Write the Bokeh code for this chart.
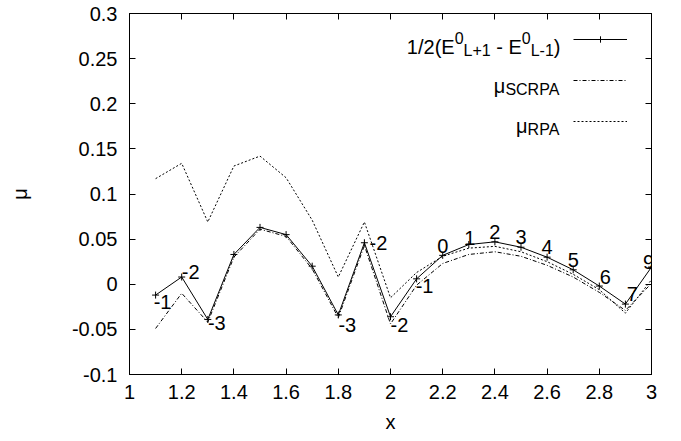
from bokeh.plotting import figure
from bokeh.models import (ColumnDataSource, FixedTicker, LinearAxis, Label, Legend,
                          LegendItem, Range1d)
from bokeh.embed import file_html
from bokeh.resources import INLINE
from bokeh.core.properties import value

# ---------------- data ----------------
x_vals = [1.1, 1.2, 1.3, 1.4, 1.5, 1.6, 1.7, 1.8, 1.9, 2.0,
          2.1, 2.2, 2.3, 2.4, 2.5, 2.6, 2.7, 2.8, 2.9, 3.0]
exact = [-0.012, 0.008, -0.039, 0.033, 0.063, 0.055, 0.020, -0.034, 0.046, -0.036,
         0.006, 0.032, 0.044, 0.047, 0.041, 0.030, 0.016, -0.002, -0.022, 0.019]
scrpa = [-0.049, -0.010, -0.042, 0.030, 0.061, 0.053, 0.017, -0.037, 0.043, -0.044,
         -0.001, 0.023, 0.033, 0.036, 0.031, 0.021, 0.008, -0.009, -0.029, 0.001]
rpa = [0.117, 0.134, 0.069, 0.131, 0.142, 0.118, 0.071, 0.008, 0.069, -0.015,
       0.013, 0.031, 0.040, 0.042, 0.036, 0.025, 0.011, -0.006, -0.032, 0.005]
point_labels = ["-1", "-2", "-3", "", "", "", "", "-3", "-2", "-2",
                "-1", "0", "1", "2", "3", "4", "5", "6", "7", "9"]

x_ticks = [1, 1.2, 1.4, 1.6, 1.8, 2, 2.2, 2.4, 2.6, 2.8, 3]
x_tick_labels = ["1", "1.2", "1.4", "1.6", "1.8", "2", "2.2", "2.4", "2.6", "2.8", "3"]
y_ticks = [-0.1, -0.05, 0, 0.05, 0.1, 0.15, 0.2, 0.25, 0.3]
y_tick_labels = ["-0.1", "-0.05", "0", "0.05", "0.1", "0.15", "0.2", "0.25", "0.3"]

# ---------------- styles (label placement, px) ----------------
label_dx = [7, 9, 9, 0, 0, 0, 0, 9, 14, 9, 8, 0, 1, 0, 0, 0, 0, 6, 7, -3]
label_dy = [7, -5, 4, 0, 0, 0, 0, 10, 0, 8, 7, -9, -7, -10, -10, -10, -10, -9, -10, -5]

FONT = "Liberation Sans"
FS = 20
FS_SUB = 16

p = figure(frame_width=522, frame_height=361,
           x_range=Range1d(1, 3), y_range=Range1d(-0.1, 0.3),
           output_backend="svg", toolbar_location=None,
           min_border_left=129, min_border_right=30,
           min_border_top=13, min_border_bottom=67,
           x_axis_label="x", y_axis_label="μ")
p.grid.visible = False
p.outline_line_color = "black"
p.background_fill_color = "white"
p.border_fill_color = "white"

def style_axis(ax, ticks, labels, show):
    ax.ticker = FixedTicker(ticks=ticks)
    ax.major_tick_in = 6
    ax.major_tick_out = 0
    ax.minor_tick_line_color = None
    ax.axis_line_color = "black"
    ax.major_tick_line_color = "black"
    if show:
        ax.major_label_overrides = {t: l for t, l in zip(ticks, labels)}
        ax.major_label_text_font = FONT
        ax.major_label_text_font_size = f"{FS}px"
        ax.major_label_text_color = "black"
    else:
        ax.major_label_overrides = {t: "" for t in ticks}
        ax.major_label_text_font_size = "0px"
        ax.major_label_standoff = 0

xa = p.xaxis[0]
ya = p.yaxis[0]
style_axis(xa, x_ticks, x_tick_labels, True)
style_axis(ya, y_ticks, y_tick_labels, True)
xa.major_label_standoff = 10
ya.major_label_standoff = 12
for ax in (xa, ya):
    ax.axis_label_text_font = FONT
    ax.axis_label_text_font_size = f"{FS}px"
    ax.axis_label_text_font_style = "normal"
    ax.axis_label_text_color = "black"
xa.axis_label_standoff = 9
ya.axis_label_standoff = 38

ra = LinearAxis()
style_axis(ra, y_ticks, y_tick_labels, False)
p.add_layout(ra, "right")
ta = LinearAxis()
style_axis(ta, x_ticks, x_tick_labels, False)
p.add_layout(ta, "above")

# ---------------- series ----------------
src = ColumnDataSource(dict(x=x_vals, exact=exact, scrpa=scrpa, rpa=rpa))
r_rpa = p.line("x", "rpa", source=src, line_color="black", line_width=1, line_dash="2 2")
r_scrpa = p.line("x", "scrpa", source=src, line_color="black", line_width=1, line_dash="4 2 1 2")
r_exact = p.line("x", "exact", source=src, line_color="black", line_width=1)
r_mark = p.scatter("x", "exact", source=src, marker="cross", size=7,
                   line_color="black", line_width=1)

# point labels
idx = [i for i, t in enumerate(point_labels) if t]
lab_src = ColumnDataSource(dict(
    x=[x_vals[i] for i in idx], y=[exact[i] for i in idx],
    t=[point_labels[i] for i in idx],
    dx=[label_dx[i] for i in idx], dy=[label_dy[i] for i in idx]))
p.text("x", "y", text="t", source=lab_src, x_offset="dx", y_offset="dy",
       text_align="center", text_baseline="middle",
       text_font=value(FONT), text_font_size=f"{FS}px", text_color="black")

# ---------------- key (samples via Legend, texts via Labels) ----------------
legend = Legend(items=[LegendItem(label=" ", renderers=[r_exact, r_mark]),
                       LegendItem(label=" ", renderers=[r_scrpa]),
                       LegendItem(label=" ", renderers=[r_rpa])],
                location=(444, 245), glyph_width=54, glyph_height=16,
                label_height=16, label_width=0, label_standoff=0, spacing=25,
                padding=0, margin=0, border_line_alpha=0,
                background_fill_alpha=0, label_text_font_size="1px")
p.add_layout(legend)

ADV = {'1': 556, '/': 278, '2': 556, '(': 333, ')': 333, 'E': 667, '0': 556,
       'L': 556, '+': 584, '-': 333, ' ': 278, 'S': 667, 'C': 722, 'R': 722,
       'P': 667, 'A': 667, 'μ': 576}

def width(s, fs):
    return sum(ADV.get(c, 556) for c in s) * fs / 1000.0

FRAME_LEFT, FRAME_BOTTOM = 129, 374
# "gap" pieces stand for a space of the main font (leading spaces get collapsed in SVG)
key_entries = [
    [("1/2(E", "main"), ("0", "sup"), ("L+1", "sub"), (" ", "gap"), ("-", "main"),
     (" ", "gap"), ("E", "main"), ("0", "sup"), ("L-1", "sub"), (")", "main")],
    [("μ", "main"), ("SCRPA", "sub")],
    [("μ", "main"), ("RPA", "sub")],
]
key_baselines = [46, 85, 125]
key_right = 560
for pieces, base in zip(key_entries, key_baselines):
    total = sum(width(t, FS_SUB if k in ("sub", "sup") else FS) for t, k in pieces)
    xpos = key_right - total
    for t, k in pieces:
        fs = FS_SUB if k in ("sub", "sup") else FS
        if k != "gap":
            b = base + (4 if k == "sub" else (-9 if k == "sup" else 0))
            p.add_layout(Label(x=xpos - FRAME_LEFT, y=FRAME_BOTTOM - b,
                               x_units="screen", y_units="screen", text=t,
                               text_font=FONT, text_font_size=f"{fs}px",
                               text_align="left", text_baseline="alphabetic",
                               text_color="black"))
        xpos += width(t, fs)

open("out.html", "w").write(file_html(p, INLINE))
